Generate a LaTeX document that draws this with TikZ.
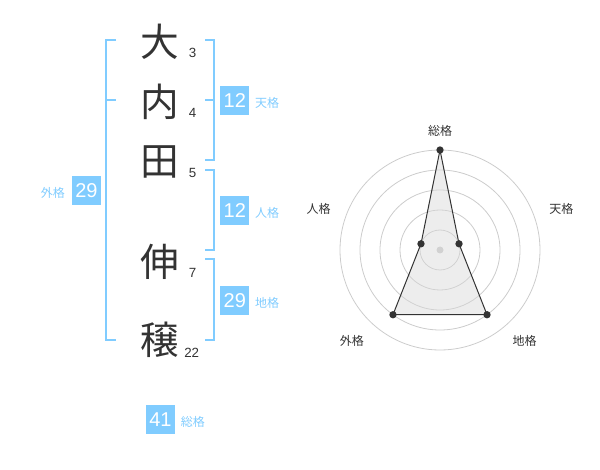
\documentclass[tikz,border=0pt]{standalone}
\usepackage{fontspec}
\setmainfont{Liberation Sans}
\newfontfamily\jpFont{Noto Sans CJK JP}
\usetikzlibrary{positioning}
\definecolor{kakuBlue}{HTML}{80CCFF}
\definecolor{inkGrey}{HTML}{333333}
\definecolor{ringGrey}{HTML}{CCCCCC}
\definecolor{areaGrey}{HTML}{D8D8D8}
\newcommand{\kakuBracket}[4]{%%
  %% Bracket at x=#1 from y=#2 to y=#3, ticks of length #4.
  \draw[bracketStyle] (#1+#4,#2) -- (#1,#2) -- (#1,#3) -- (#1+#4,#3);
}

\begin{document}
\begin{tikzpicture}[%%
  x=0.75pt,y=-0.75pt,%%
  kanjiStyle/.style={inner sep=0,text=inkGrey,font=\jpFont\fontsize{29}{29}\selectfont},%%
  numStyle/.style={inner sep=0,text=inkGrey,font=\fontsize{10}{10}\selectfont},%%
  boxStyle/.style={fill=kakuBlue,text=white,inner sep=0,minimum size=21.75pt,%%
    font=\fontsize{15}{15}\selectfont},%%
  kakuLabel/.style={inner sep=0,text=kakuBlue,font=\jpFont\fontsize{9}{9}\selectfont},%%
  bracketStyle/.style={-,line width=1.5pt,kakuBlue},%%
  ringStyle/.style={-,line width=0.6pt,ringGrey},%%
  areaStyle/.style={-,line width=0.75pt,inkGrey,fill=areaGrey,fill opacity=0.45},%%
  dotStyle/.style={circle,fill=inkGrey,inner sep=0,minimum size=5.5pt},%%
  radarLabel/.style={inner sep=0,text=inkGrey,font=\jpFont\fontsize{9}{9}\selectfont}%%
]
\useasboundingbox (0,0) rectangle (600,470);
%%
%% The name, one character under the other.
\node[kanjiStyle] (kanjiA) at (160,42)  {大};
\node[kanjiStyle] (kanjiB) at (160,102) {内};
\node[kanjiStyle] (kanjiC) at (160,162) {田};
\node[kanjiStyle] (kanjiD) at (160,262) {伸};
\node[kanjiStyle] (kanjiE) at (160,340) {穣};
%%
%% Stroke counts.
\node[numStyle] (countA) at (192.7,52.7)  {3};
\node[numStyle] (countB) at (192.7,113.3) {4};
\node[numStyle] (countC) at (192.7,172.7) {5};
\node[numStyle] (countD) at (192.7,273.3) {7};
\node[numStyle] (countE) at (191.7,352.7) {22};
%%
%% Brackets.
\kakuBracket{105.7}{40}{340}{10.3}
\draw[bracketStyle] (105.7,100) -- (116,100);
\kakuBracket{214.3}{40}{160}{-9}
\draw[bracketStyle] (214.3,100) -- (205.3,100);
\kakuBracket{214.3}{170}{250}{-9}
\kakuBracket{214.3}{259.3}{340}{-9}
%%
%% The five values.
\node[boxStyle] (gaiBox)  at (86.5,190.5)  {29};
\node[kakuLabel,left=5pt of gaiBox,yshift=-1.5pt] (gaiLabel) {外格};
\node[boxStyle] (tenBox)  at (234.8,100.5) {12};
\node[kakuLabel,right=4pt of tenBox,yshift=-2pt] (tenLabel) {天格};
\node[boxStyle] (jinBox)  at (234.8,210.5) {12};
\node[kakuLabel,right=4pt of jinBox,yshift=-2pt] (jinLabel) {人格};
\node[boxStyle] (chiBox)  at (234.8,300.5) {29};
\node[kakuLabel,right=4pt of chiBox,yshift=-2pt] (chiLabel) {地格};
\node[boxStyle] (souBox)  at (160.5,419.7) {41};
\node[kakuLabel,right=4pt of souBox,yshift=-2pt] (souLabel) {総格};
%%
%% The radar chart.
\begin{scope}[shift={(440,250)},y=0.75pt]
  \foreach \r in {20,40,...,100}
    \draw[ringStyle] (0,0) circle (\r);
  \fill[ringGrey] (0,0) circle (3.5);
  \coordinate (souPt) at (90:100);
  \coordinate (tenPt) at (18:20);
  \coordinate (chiPt) at (-54:80);
  \coordinate (gaiPt) at (234:80);
  \coordinate (jinPt) at (162:20);
  \draw[areaStyle] (souPt) -- (tenPt) -- (chiPt) -- (gaiPt) -- (jinPt) -- cycle;
  \foreach \p in {souPt,tenPt,chiPt,gaiPt,jinPt}
    \node[dotStyle] at (\p) {};
  \node[radarLabel] (souName) at (90:119)  {総格};
  \node[radarLabel] (tenName) at (18.5:128) {天格};
  \node[radarLabel] (chiName) at (-47:124) {地格};
  \node[radarLabel] (gaiName) at (226:127) {外格};
  \node[radarLabel] (jinName) at (161.5:128) {人格};
\end{scope}
\end{tikzpicture}
\end{document}
